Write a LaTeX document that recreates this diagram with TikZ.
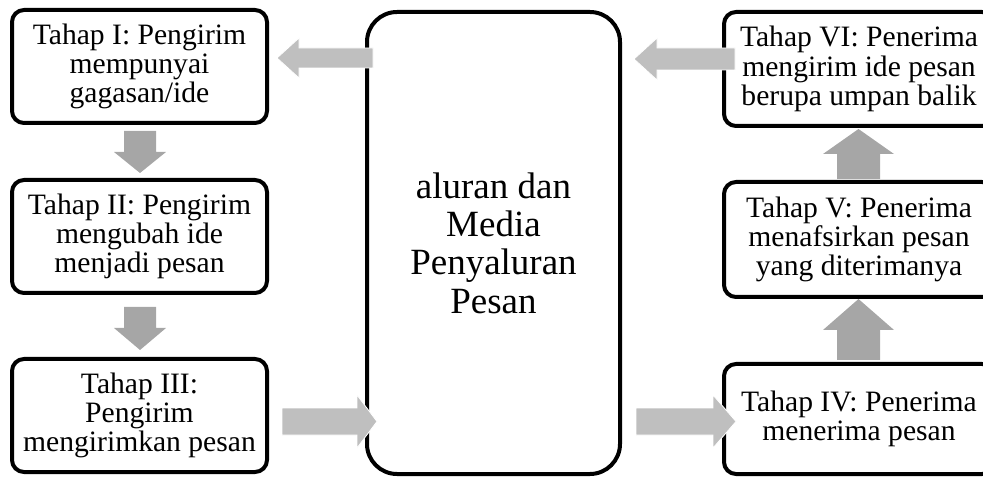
\documentclass[tikz,border=0pt]{standalone}
\usepackage{fontspec}
\setmainfont{Liberation Serif}
\tikzset{
  stagebox/.style={draw=black, line width=4pt, rounded corners=12pt, fill=white,
    align=center, inner sep=0pt, font=\fontsize{29.6}{29.3}\selectfont},
  mediabox/.style={draw=black, line width=4pt, rounded corners=30pt, fill=white,
    align=center, inner sep=0pt, font=\fontsize{37}{38.3}\selectfont},
  harrow/.style={fill=hlight, draw=white, line width=0.8pt},
  varrow/.style={fill=vdark, draw=none},
}
\definecolor{hlight}{HTML}{BFBFBF}
\definecolor{vdark}{HTML}{A6A6A6}
\begin{document}
\begin{tikzpicture}[x=1pt,y=-1pt]
\useasboundingbox (0,0) rectangle (983,478);
\clip (0,0) rectangle (983,478);
% stage boxes (left column)
\node[stagebox, minimum width=255pt, minimum height=113pt] (s1) at (139.5,66.5)
  {Tahap I: Pengirim\\mempunyai\\gagasan/ide};
\node[stagebox, minimum width=255pt, minimum height=113pt] (s2) at (139.5,236.5)
  {Tahap II: Pengirim\\mengubah ide\\menjadi pesan};
\node[stagebox, minimum width=255pt, minimum height=113pt] (s3) at (139.5,415.5)
  {Tahap III:\\Pengirim\\mengirimkan pesan};
% central box
\node[mediabox, minimum width=253pt, minimum height=462pt] (media) at (493.5,243)
  {aluran dan\\Media\\Penyaluran\\Pesan};
% stage boxes (right column)
\node[stagebox, minimum width=270pt, minimum height=114pt] (s6) at (859,69)
  {Tahap VI: Penerima\\mengirim ide pesan\\berupa umpan balik};
\node[stagebox, minimum width=270pt, minimum height=115pt] (s5) at (859,239.5)
  {Tahap V: Penerima\\menafsirkan pesan\\yang diterimanya};
\node[stagebox, minimum width=270pt, minimum height=110pt] (s4) at (859,419)
  {Tahap IV: Penerima\\menerima pesan};
% vertical block arrows (left, downwards)
\fill[varrow] (124,131) -- (156,131) -- (156,152) -- (166,152) -- (140,173)
  -- (114,152) -- (124,152) -- cycle;
\fill[varrow] (124,307) -- (156,307) -- (156,328) -- (166,328) -- (140,350)
  -- (114,328) -- (124,328) -- cycle;
% vertical block arrows (right, upwards)
\fill[varrow] (837,360) -- (880,360) -- (880,330) -- (894,330) -- (858.5,299)
  -- (823,330) -- (837,330) -- cycle;
\fill[varrow] (837,179) -- (880,179) -- (880,154) -- (894,154) -- (858.5,129)
  -- (823,154) -- (837,154) -- cycle;
% horizontal block arrows
\path[harrow] (373,48) -- (299,48) -- (299,38) -- (277,58) -- (299,78)
  -- (299,68) -- (373,68) -- cycle;
\path[harrow] (735,48) -- (657,48) -- (657,38) -- (634,59) -- (657,80)
  -- (657,70) -- (735,70) -- cycle;
\path[harrow] (282,408) -- (357,408) -- (357,395) -- (377,421.5) -- (357,448)
  -- (357,435) -- (282,435) -- cycle;
\path[harrow] (636,408) -- (713,408) -- (713,395) -- (736,421.5) -- (713,448)
  -- (713,435) -- (636,435) -- cycle;
\end{tikzpicture}
\end{document}
